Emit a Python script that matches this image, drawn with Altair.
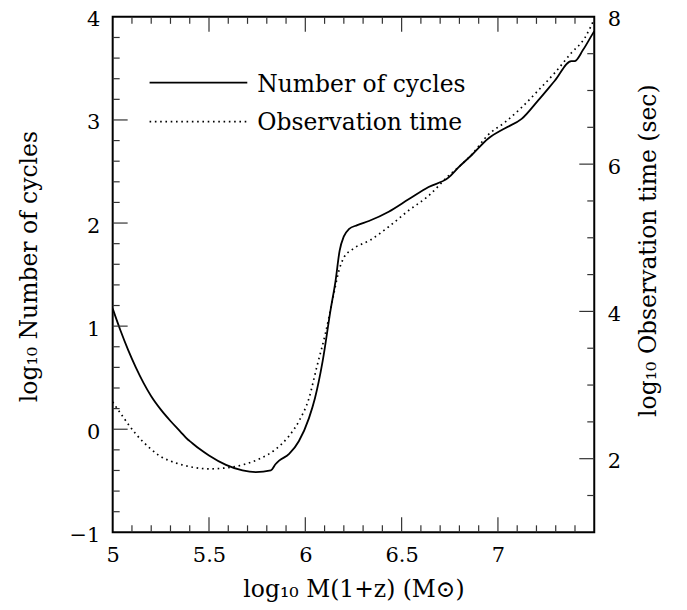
import altair as alt
import pandas as pd

# ---- data ----
nc_x = [5.0, 5.04, 5.08, 5.12, 5.16, 5.20, 5.25, 5.30, 5.35, 5.39, 5.40, 5.45, 5.50, 5.588,
        5.674, 5.743, 5.821, 5.845, 5.864, 5.916, 5.967, 6.019, 6.05, 6.09, 6.131, 6.157,
        6.178, 6.20, 6.226, 6.27, 6.33, 6.433, 6.536, 6.64, 6.743, 6.795, 6.864, 6.95,
        7.037, 7.123, 7.209, 7.295, 7.381, 7.398, 7.442, 7.49, 7.5]
nc_y = [1.17, 0.96, 0.77, 0.60, 0.45, 0.32, 0.19, 0.08, -0.02, -0.10, -0.115, -0.19, -0.255, -0.346,
        -0.40, -0.416, -0.40, -0.34, -0.305, -0.24, -0.114, 0.108, 0.30, 0.66, 1.155, 1.44,
        1.73, 1.87, 1.94, 1.98, 2.02, 2.11, 2.23, 2.35, 2.44, 2.54, 2.66, 2.82,
        2.92, 3.01, 3.19, 3.38, 3.57, 3.57, 3.68, 3.83, 3.86]

ot_x = [5.0, 5.053, 5.122, 5.19, 5.243, 5.33, 5.415, 5.50, 5.588, 5.674, 5.76, 5.847,
        5.916, 5.967, 6.019, 6.06, 6.105, 6.148, 6.174, 6.20, 6.243, 6.338, 6.433, 6.536,
        6.64, 6.743, 6.80, 6.864, 6.95, 7.037, 7.123, 7.209, 7.295, 7.381, 7.45, 7.5]
ot_y = [2.77, 2.57, 2.33, 2.15, 2.04, 1.94, 1.884, 1.862, 1.875, 1.916, 1.996, 2.13,
        2.31, 2.51, 2.82, 3.25, 3.707, 4.24, 4.55, 4.73, 4.84, 4.97, 5.15, 5.37,
        5.57, 5.84, 5.97, 6.13, 6.40, 6.57, 6.77, 7.0, 7.24, 7.51, 7.71, 7.97]

x_labels = [5, 5.5, 6, 6.5, 7]
x_minor = [5.1, 5.2, 5.3, 5.4, 5.6, 5.7, 5.8, 5.9, 6.1, 6.2, 6.3, 6.4,
           6.6, 6.7, 6.8, 6.9, 7.1, 7.2, 7.3, 7.4]
yl_labels = [-1, 0, 1, 2, 3, 4]
yl_major = [0, 1, 2, 3]
yl_minor = [-0.8, -0.6, -0.4, -0.2, 0.2, 0.4, 0.6, 0.8, 1.2, 1.4, 1.6, 1.8,
            2.2, 2.4, 2.6, 2.8, 3.2, 3.4, 3.6, 3.8]
yr_labels = [2, 4, 6, 8]
yr_major = [2, 4, 6]
yr_minor = [1.5, 2.5, 3, 3.5, 4.5, 5, 5.5, 6.5, 7, 7.5]

legend_labels = ["Number of cycles", "Observation time"]

# ---- styling ----
W, H = 483, 517
FONT = "DejaVu Serif"
MAJ, MIN = 15, 7
TICK_COLOR = "#333333"

xs = alt.Scale(domain=[5, 7.5], nice=False, zero=False)
yls = alt.Scale(domain=[-1, 4], nice=False, zero=False)
yrs = alt.Scale(domain=[1, 8], nice=False, zero=False)

x_axis = alt.Axis(values=x_labels, format="~g", ticks=False, domain=False, grid=False,
                  labelFlush=False, title="log₁₀ M(1+z) (M⊙)", labelPadding=12,
                  titleX=W / 2, titleY=57, titleBaseline="middle")

nc = pd.DataFrame({"m": nc_x, "n": nc_y})
ot = pd.DataFrame({"m": ot_x, "t": ot_y})

solid = alt.Chart(nc).mark_line(color="black", strokeWidth=1.8, interpolate="monotone").encode(
    x=alt.X("m:Q", scale=xs, axis=x_axis),
    y=alt.Y("n:Q", scale=yls,
            axis=alt.Axis(orient="left", values=yl_labels, ticks=False, domain=False, grid=False,
                          labelFlush=False,
                          title="log₁₀ Number of cycles", labelPadding=13, labelOffset=3,
                          titleX=-83, titleY=250, titleAngle=270, titleBaseline="middle")),
)

dotted = alt.Chart(ot).mark_line(color="black", strokeWidth=1.7, strokeDash=[1.6, 3.7],
                                 interpolate="monotone").encode(
    x=alt.X("m:Q", scale=xs, axis=x_axis),
    y=alt.Y("t:Q", scale=yrs,
            axis=alt.Axis(orient="right", values=yr_labels, ticks=False, domain=False, grid=False,
                          labelFlush=False,
                          title="log₁₀ Observation time (sec)", labelPadding=13, labelOffset=3,
                          titleX=54, titleY=234, titleAngle=270, titleBaseline="middle")),
)


def xticks(vals, y0, y1):
    return alt.Chart(pd.DataFrame({"m": vals})).mark_rule(
        color=TICK_COLOR, strokeWidth=1.2).encode(
        x=alt.X("m:Q", scale=xs, axis=x_axis), y=alt.value(y0), y2=alt.value(y1))


def lticks(vals, x0, x1):
    return alt.Chart(pd.DataFrame({"v": vals})).mark_rule(
        color=TICK_COLOR, strokeWidth=1.2).encode(
        y=alt.Y("v:Q", scale=yls, axis=None), x=alt.value(x0), x2=alt.value(x1))


def rticks(vals, x0, x1):
    return alt.Chart(pd.DataFrame({"v": vals})).mark_rule(
        color=TICK_COLOR, strokeWidth=1.2).encode(
        y=alt.Y("v:Q", scale=yrs, axis=None), x=alt.value(x0), x2=alt.value(x1))


tick_layers = [
    xticks(x_labels[1:], H, H - MAJ), xticks(x_minor, H, H - MIN),
    xticks(x_labels[1:], 0, MAJ), xticks(x_minor, 0, MIN),
    lticks(yl_major, 0, MAJ), lticks(yl_minor, 0, MIN),
    rticks(yr_major, W, W - MAJ), rticks(yr_minor, W, W - MIN),
]

leg_solid = alt.Chart(pd.DataFrame({"a": [0]})).mark_rule(color="black", strokeWidth=1.8).encode(
    x=alt.value(37), x2=alt.value(135), y=alt.value(66))
leg_dot = alt.Chart(pd.DataFrame({"a": [0]})).mark_rule(
    color="black", strokeWidth=1.7, strokeDash=[1.6, 3.7]).encode(
    x=alt.value(37), x2=alt.value(135), y=alt.value(105))
leg_t1 = alt.Chart(pd.DataFrame({"label": [legend_labels[0]]})).mark_text(
    font=FONT, fontSize=23.5, align="left", baseline="alphabetic", color="black").encode(
    x=alt.value(145), y=alt.value(75), text="label:N")
leg_t2 = alt.Chart(pd.DataFrame({"label": [legend_labels[1]]})).mark_text(
    font=FONT, fontSize=23.5, align="left", baseline="alphabetic", color="black").encode(
    x=alt.value(145), y=alt.value(113), text="label:N")

chart = alt.layer(
    solid, dotted, *tick_layers, leg_solid, leg_dot, leg_t1, leg_t2
).resolve_scale(y="independent").properties(
    width=W, height=H,
    autosize=alt.AutoSizeParams(type="none"),
    padding={"left": 105, "top": 8, "right": 85, "bottom": 70},
).configure_view(
    stroke="black", strokeWidth=2
).configure_axis(
    labelFont=FONT, labelFontSize=21, labelColor="black",
    titleFont=FONT, titleFontSize=23.5, titleFontWeight="normal", titleColor="black",
)

chart.save("out.html", embed_options={"renderer": "svg", "actions": False})
